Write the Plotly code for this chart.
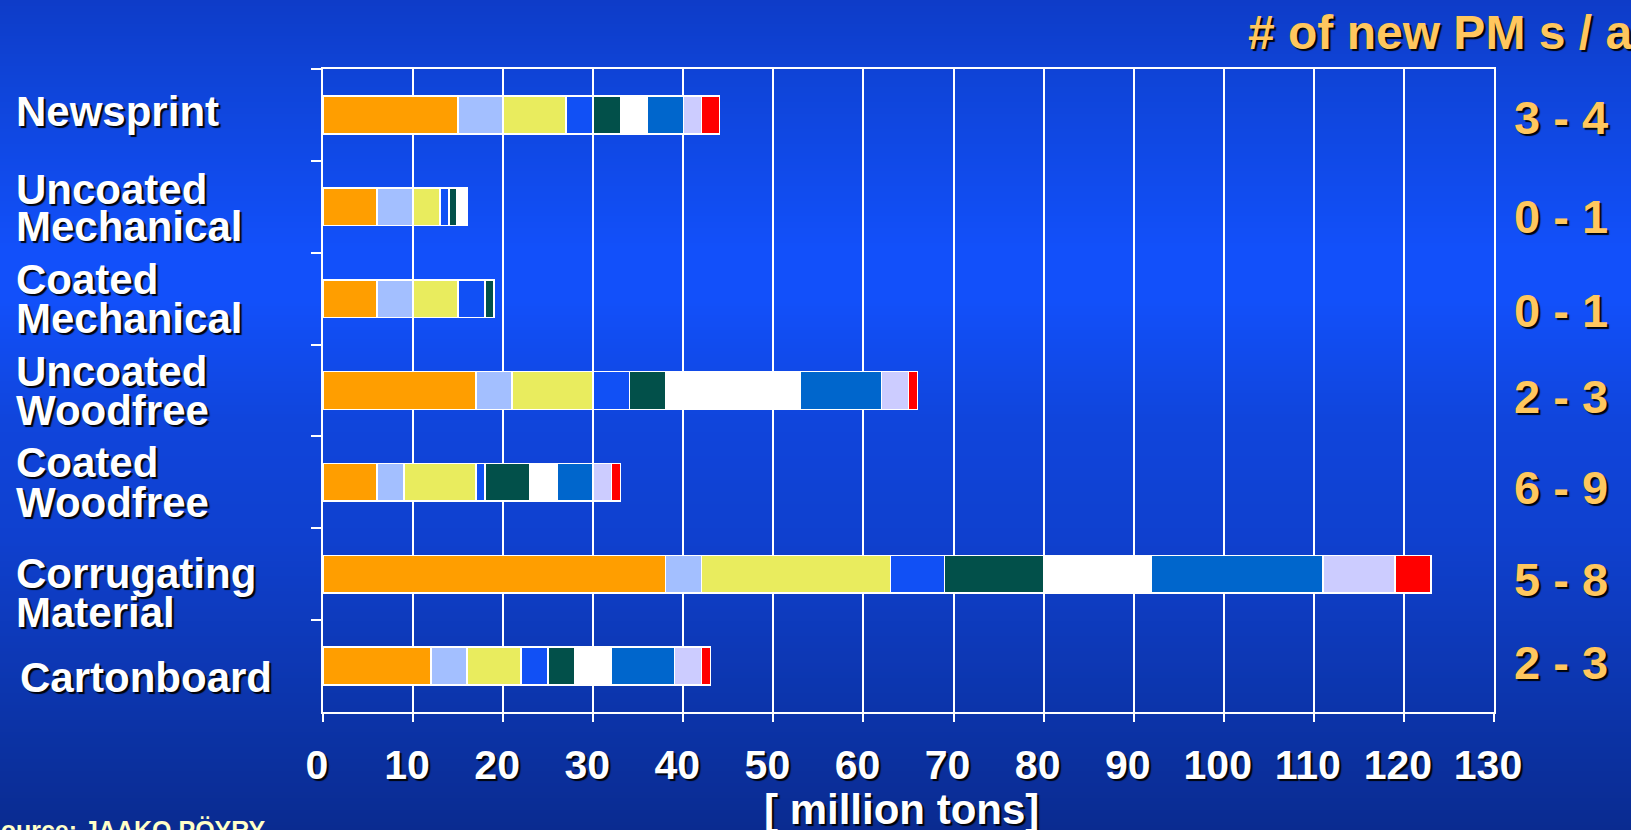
import plotly.graph_objects as go

# ---- data -------------------------------------------------------------
categories = ["Newsprint", "Uncoated Mechanical", "Coated Mechanical",
              "Uncoated Woodfree", "Coated Woodfree", "Corrugating Material",
              "Cartonboard"]

# stacked segments per grade, million tons (None = segment absent)
seg_1 = [15, 6, 6, 17, 6, 38, 12]
seg_2 = [5, 4, 4, 4, 3, 4, 4]
seg_3 = [7, 3, 5, 9, 8, 21, 6]
seg_4 = [3, 1, 3, 4, 1, 6, 3]
seg_5 = [3, 0.8, 1, 4, 5, 11, 3]
seg_6 = [3, 1.2, None, 15, 3, 12, 4]
seg_7 = [4, None, None, 9, 4, 19, 7]
seg_8 = [2, None, None, 3, 2, 8, 3]
seg_9 = [2, None, None, 1, 1, 4, 1]

new_pms = ["3 - 4", "0 - 1", "0 - 1", "2 - 3", "6 - 9", "5 - 8", "2 - 3"]

x_ticks = list(range(0, 131, 10))

# ---- styling ----------------------------------------------------------
W, H = 1631, 830
L, R, T, B = 323, 1494, 69, 712          # plot area in pixels
PW, PH = R - L, B - T

seg_colors = ["#FF9E00", "#A3BFFF", "#E9EC5E", "#1150F5", "#02504A",
              "#FFFFFF", "#0066CC", "#CCCCFF", "#FF0000"]
segments = [seg_1, seg_2, seg_3, seg_4, seg_5, seg_6, seg_7, seg_8, seg_9]

FONT = "Liberation Sans, Arial, sans-serif"
SHADOW = "2px 2px 1px rgba(0,0,0,0.95)"
GOLD = "#FFC75E"


def px_x(p):
    return (p - L) / PW


def px_y(p):
    return (B - p) / PH


fig = go.Figure()
for i, (vals, col) in enumerate(zip(segments, seg_colors)):
    fig.add_trace(go.Bar(
        y=categories, x=vals, orientation="h", name=f"Group {i + 1}",
        marker=dict(color=col, line=dict(color="white", width=1.5)),
        hoverinfo="x+y",
    ))

# background gradient as thin horizontal stripes
stops = [(0, "#0E3CC8"), (80, "#0F44D8"), (250, "#1250FA"), (300, "#1250FA"),
         (420, "#1045DC"), (540, "#0F40CE"), (700, "#0C35AC"), (830, "#0A2B90")]


def hex2rgb(h):
    return tuple(int(h[k:k + 2], 16) for k in (1, 3, 5))


def grad(yp):
    for (y0, c0), (y1, c1) in zip(stops[:-1], stops[1:]):
        if y0 <= yp <= y1:
            t = (yp - y0) / (y1 - y0)
            a, b = hex2rgb(c0), hex2rgb(c1)
            return "rgb(%d,%d,%d)" % tuple(round(a[k] + (b[k] - a[k]) * t) for k in range(3))
    return stops[-1][1]


shapes = []
step = 3
for yp in range(0, H, step):
    shapes.append(dict(type="rect", xref="paper", yref="paper",
                       x0=px_x(-2), x1=px_x(W + 2),
                       y0=px_y(yp + step + 0.5), y1=px_y(yp),
                       fillcolor=grad(yp + step / 2), line=dict(width=0),
                       layer="below"))

annotations = []

# category labels, one line per annotation, left aligned
label_lines = [("Newsprint", 16, 111), ("Uncoated", 16, 189), ("Mechanical", 16, 227),
               ("Coated", 16, 279), ("Mechanical", 16, 318),
               ("Uncoated", 16, 371), ("Woodfree", 16, 410),
               ("Coated", 16, 462), ("Woodfree", 16, 502),
               ("Corrugating", 16, 573), ("Material", 16, 612),
               ("Cartonboard", 20, 677)]
for txt, xp, yp in label_lines:
    annotations.append(dict(text=txt, xref="paper", yref="paper",
                            x=px_x(xp - 1), y=px_y(yp), xanchor="left", yanchor="middle",
                            showarrow=False, borderpad=0,
                            font=dict(family=FONT, size=42, color="white",
                                      weight="bold", shadow=SHADOW)))

# number of new paper machines per year, right column
pm_y = [117, 216, 310, 397, 487, 579, 662]
for txt, yp in zip(new_pms, pm_y):
    annotations.append(dict(text=txt, xref="paper", yref="paper",
                            x=px_x(1610), y=px_y(yp), xanchor="right", yanchor="middle",
                            showarrow=False,
                            font=dict(family=FONT, size=47, color=GOLD,
                                      weight="bold", shadow=SHADOW)))

annotations.append(dict(text="# of new PM s / a", xref="paper", yref="paper",
                        x=px_x(1634), y=px_y(32), xanchor="right", yanchor="middle",
                        showarrow=False,
                        font=dict(family=FONT, size=48, color=GOLD,
                                  weight="bold", shadow=SHADOW)))

annotations.append(dict(text="[ million tons]", xref="paper", yref="paper",
                        x=px_x(901), y=px_y(809), xanchor="center", yanchor="middle",
                        showarrow=False, borderpad=0,
                        font=dict(family=FONT, size=42, color="white",
                                  weight="bold", shadow=SHADOW)))

annotations.append(dict(text="Source: JAAKO PÖYRY", xref="paper", yref="paper",
                        x=px_x(-18), y=px_y(814), xanchor="left", yanchor="top",
                        showarrow=False,
                        font=dict(family=FONT, size=25, color="#FFFFC8",
                                  weight="bold")))

fig.update_layout(
    width=W, height=H,
    margin=dict(l=L, r=W - R, t=T, b=H - B, pad=0),
    paper_bgcolor="#0F44D8", plot_bgcolor="rgba(0,0,0,0)",
    barmode="stack", bargap=0.59, showlegend=False,
    shapes=shapes, annotations=annotations,
    xaxis=dict(range=[0, 130], tickvals=x_ticks, ticktext=[str(v) for v in x_ticks],
               showgrid=True, gridcolor="white", gridwidth=2, zeroline=False,
               showline=True, linecolor="white", linewidth=2, mirror=True,
               ticks="outside", ticklen=8, tickwidth=2, tickcolor="white",
               ticklabelstandoff=8, ticklabelshift=-6,
               tickfont=dict(family=FONT, size=41, color="white",
                             weight="bold", shadow=SHADOW)),
    yaxis=dict(autorange="reversed", type="category",
               showgrid=False, zeroline=False,
               showline=True, linecolor="white", linewidth=2, mirror=True,
               ticks="outside", tickson="boundaries", ticklen=10, tickwidth=2,
               tickcolor="white", showticklabels=False),
)

fig.write_html("out.html")
